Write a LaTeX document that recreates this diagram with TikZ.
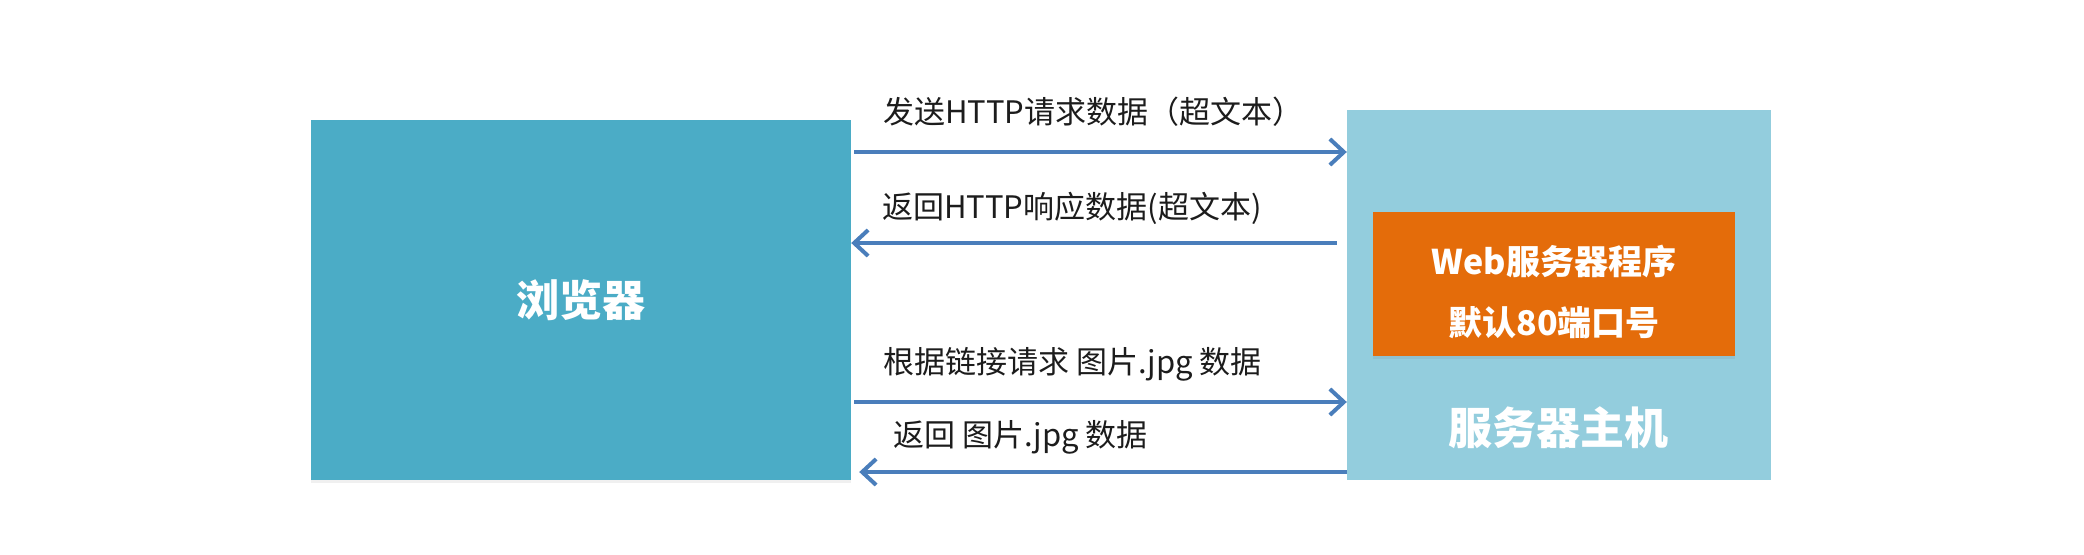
\documentclass[tikz,border=0pt]{standalone}
\usepackage{fontspec}
\setmainfont{Noto Sans CJK SC}
\usetikzlibrary{arrows.meta,shadows,calc}
\definecolor{browserblue}{HTML}{4BACC6}
\definecolor{hostblue}{HTML}{93CDDD}
\definecolor{apporange}{HTML}{E46C0A}
\definecolor{flowblue}{HTML}{4A7EBB}
\definecolor{msgtext}{HTML}{1C1C1C}

\begin{document}
\begin{tikzpicture}[x=1pt, y=-1pt,
                    box/.style={rectangle, draw=none, inner sep=0},
                    flow/.style={draw=flowblue, line width=4pt,
                                 -{Straight Barb[length=14pt, width=26pt]}},
                    msg/.style={anchor=base west, inner sep=0, text=msgtext,
                                font=\fontsize{31}{37}\selectfont}]
                \useasboundingbox (0,0) rectangle (2084,554);

                \node (server) [box, fill=hostblue, minimum width=424pt, minimum height=370pt] at (1559,295) {};
                \node (browser) [box, fill=browserblue, minimum width=540pt, minimum height=360pt,
                                 drop shadow={shadow xshift=0pt, shadow yshift=-3pt, opacity=0.12},
                                 text=white, font=\fontsize{43}{50}\selectfont\bfseries] at (581,300) {浏览器};
                \node (webapp) [box, fill=apporange, minimum width=362pt, minimum height=144pt,
                                drop shadow={shadow xshift=0pt, shadow yshift=-3pt, opacity=0.15}] at (1554,284) {};
                \node (webtext) [text=white, align=center, inner sep=0,
                                 font=\fontsize{34}{61}\selectfont\bfseries] at ([yshift=-8pt]webapp.center) {Web服务器程序\\默认80端口号};
                \node (host) [text=white, inner sep=0, font=\fontsize{44}{50}\selectfont\bfseries] at (1558,428) {服务器主机};

                \node (req) [msg] at (883,123) {发送HTTP请求数据（超文本）};
                \node (resp) [msg] at (882,218) {返回HTTP响应数据(超文本)};
                \node (imgreq) [msg] at (883,373) {根据链接请求 图片.jpg 数据};
                \node (imgresp) [msg] at (893,446) {返回 图片.jpg 数据};

                \draw [flow] ($(browser.east |- 0,152)+(3,0)$) -- (server.west |- 0,152);
                \draw [flow] ($(server.west |- 0,243)+(-10,0)$) -- (browser.east |- 0,243);
                \draw [flow] ($(browser.east |- 0,402)+(3,0)$) -- (server.west |- 0,402);
                \draw [flow] (server.west |- 0,472) -- ($(browser.east |- 0,472)+(8,0)$);
            \end{tikzpicture}
\end{document}
